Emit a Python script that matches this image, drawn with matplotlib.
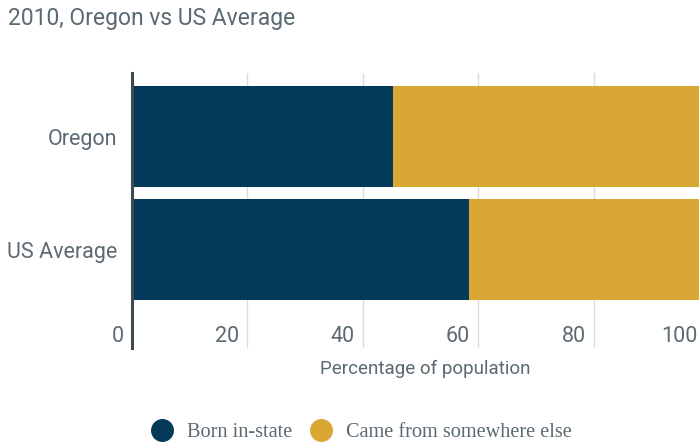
import matplotlib.pyplot as plt
from matplotlib.lines import Line2D

# Data
regions = ["Oregon", "US Average"]
born_in_state = [45.2, 58.5]
came_elsewhere = [54.8, 41.5]
xticks = [0, 20, 40, 60, 80, 100]

NAVY = "#033a5a"
GOLD = "#d9a733"
TEXT = "#5b6a72"
SPINE = "#3d4a52"
GRID = "#dcdcdc"

W, H = 699, 444
fig = plt.figure(figsize=(W / 100, H / 100), dpi=100)
plt.rcParams['font.family'] = ['Roboto', 'DejaVu Sans']

# axes spans from the spine to beyond the right edge (chart is clipped there)
x0, x1, ytop, ybot = 131.5, 709, 73, 348
ax = fig.add_axes([x0 / W, 1 - ybot / H, (x1 - x0) / W, (ybot - ytop) / H])

ypos = list(range(len(regions)))
ax.barh(ypos, born_in_state, height=0.9, color=NAVY, zorder=2)
ax.barh(ypos, came_elsewhere, left=born_in_state, height=0.9, color=GOLD, zorder=2)

ax.set_xlim(0, 100)
ax.set_ylim(1.876, -0.566)

for t in xticks[1:]:
    ax.axvline(t, color=GRID, lw=1, zorder=1)

for s in ["top", "right", "bottom"]:
    ax.spines[s].set_visible(False)
ax.spines["left"].set_color(SPINE)
ax.spines["left"].set_linewidth(2.2)
ax.spines["left"].set_zorder(3)

ax.set_xticks([])
ax.set_yticks([])

# y labels
for y, name in zip(ypos, regions):
    ax.annotate(name, xy=(0, y), xycoords="data", xytext=(-10.5, -2),
                textcoords="offset points", ha="right", va="center",
                fontsize=15.5, color=TEXT)

# x tick labels, right aligned just left of each gridline
for t in xticks:
    if t == 100:
        fig.text(698 / W, 1 - 336.5 / H, str(t), ha="right", va="center",
                 fontsize=15.5, color=TEXT)
    else:
        ax.annotate(str(t), xy=(t, 1.76), xycoords="data", xytext=(-5.5, -1.2),
                    textcoords="offset points", ha="right", va="center",
                    fontsize=15.5, color=TEXT)

fig.text(425 / W, 1 - 369 / H, "Percentage of population", ha="center",
         va="center", fontsize=13.5, color=TEXT)

fig.text(8 / W, 1 - 18 / H, "2010, Oregon vs US Average", ha="left",
         va="center", fontsize=16.5, color=TEXT)

handles = [Line2D([], [], marker="o", ls="", ms=15.5, color=NAVY),
           Line2D([], [], marker="o", ls="", ms=15.5, color=GOLD)]
leg = fig.legend(handles, ["Born in-state", "Came from somewhere else"],
                 loc="center", bbox_to_anchor=(357 / W, 1 - 432 / H), ncol=2,
                 frameon=False, handletextpad=0.25, columnspacing=0.4,
                 prop={"family": "Liberation Serif", "size": 14.6})
for txt in leg.get_texts():
    txt.set_color(TEXT)

fig.savefig("out.png", dpi=100)
